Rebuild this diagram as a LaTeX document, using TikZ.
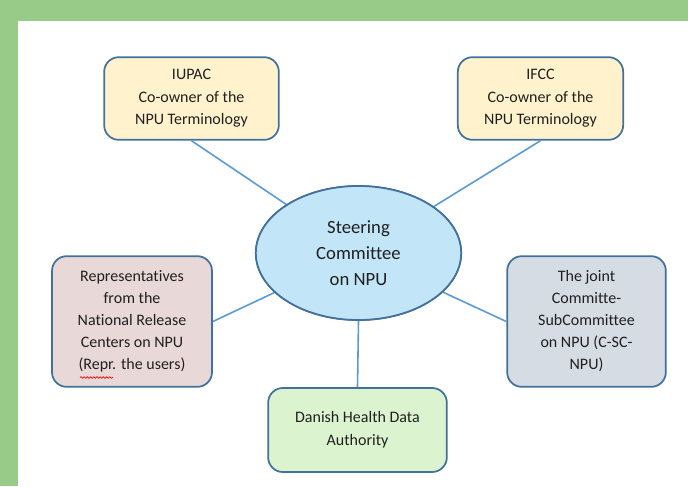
\documentclass[tikz,border=0pt]{standalone}
\usepackage{fontspec}
\setmainfont{Carlito}[Ligatures=NoCommon]
\usetikzlibrary{shapes.geometric,decorations.pathmorphing}

\definecolor{frame}{HTML}{98CB87}
\definecolor{outline}{HTML}{41719C}
\definecolor{link}{HTML}{5B9BD5}
\definecolor{txt}{HTML}{202020}
\definecolor{yellowfill}{HTML}{FFF2CC}
\definecolor{bluefill}{HTML}{C2E5F8}
\definecolor{pinkfill}{HTML}{E8D8D8}
\definecolor{grayfill}{HTML}{D5DCE4}
\definecolor{greenfill}{HTML}{DCF3CF}

\tikzset{
  party/.style={draw=outline, line width=1.3pt, rounded corners=11pt,
    align=center, inner sep=0pt, text=txt,
    font=\fontsize{12}{17}\selectfont},
  hub/.style={ellipse, draw=outline, line width=1.3pt, fill=bluefill,
    align=center, inner sep=0pt, text=txt,
    minimum width=154pt, minimum height=100.5pt,
    font=\fontsize{14}{19.5}\selectfont},
  tie/.style={draw=link, line width=1.2pt}
}

\begin{document}
\begin{tikzpicture}[x=0.75pt,y=-0.75pt]
  % page frame
  \fill[frame] (0,0) rectangle (688,486);
  \fill[white] (18,21) rectangle (688,486);
  \useasboundingbox (0,0) rectangle (688,486);

  % central committee
  \node[hub] (steer) at (358.5,253) {Steering\\Committee\\on NPU};

  % surrounding parties
  \node[party, fill=yellowfill, minimum width=131pt, minimum height=62pt]
    (iupac) at (191.5,98.5) {IUPAC\\Co-owner of the\\NPU Terminology};
  \node[party, fill=yellowfill, minimum width=124pt, minimum height=62pt]
    (ifcc) at (540.5,98.5) {IFCC\\Co-owner of the\\NPU Terminology};
  \node[party, fill=pinkfill, minimum width=120pt, minimum height=98pt,
    font=\fontsize{12}{16.5}\selectfont]
    (users) at (132,321.5) {Representatives\\from the\\National Release\\Centers on NPU\\(Repr. the users)};
  \node[party, fill=grayfill, minimum width=119pt, minimum height=98pt,
    font=\fontsize{12}{16.5}\selectfont]
    (csc) at (586.5,321.5) {The joint\\Committe-\\SubCommittee\\on NPU (C-SC-\\NPU)};
  \node[party, fill=greenfill, minimum width=134pt, minimum height=63pt]
    (dhda) at (357.5,430) {Danish Health Data\\Authority};

  % connectors
  \draw[tie] (iupac.south) -- (steer);
  \draw[tie] (ifcc.south) -- (steer);
  \draw[tie] (users.east) -- (steer);
  \draw[tie] (csc.west) -- (steer);
  \draw[tie] (dhda.north) -- (steer.south);
  % redraw hub over the connector ends
  \node[hub] at (steer) {Steering\\Committee\\on NPU};

  % spell-check squiggle under "Repr."
  \draw[red, line width=0.5pt, decorate,
    decoration={snake, amplitude=0.6pt, segment length=2.4pt}]
    (80,377.5) -- (113,377.5);
\end{tikzpicture}
\end{document}
